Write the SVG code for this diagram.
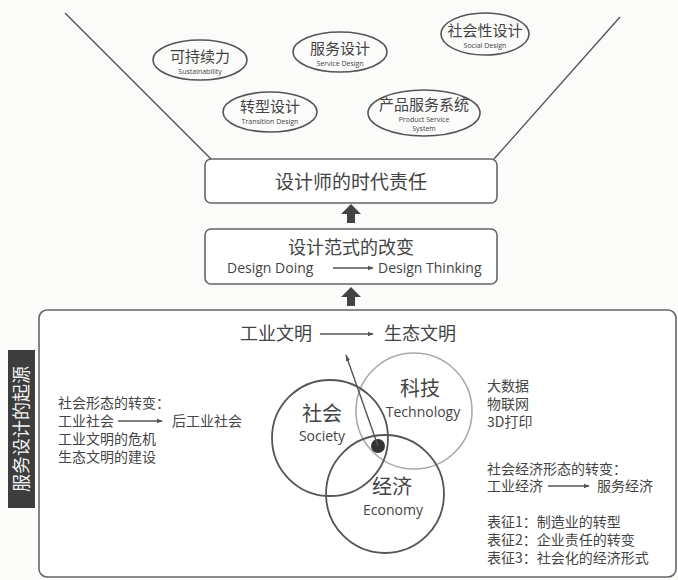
<svg xmlns="http://www.w3.org/2000/svg" width="678" height="580" viewBox="0 0 678 580">
<defs>
<style>
.t{font-family:"Noto Sans CJK SC","Noto Sans",sans-serif;fill:#444;}
.e{font-family:"Open Sans","Noto Sans",sans-serif;fill:#444;}
.c{text-anchor:middle;}
.ell{fill:none;stroke:#555;stroke-width:1.6;}
.box{fill:#fff;stroke:#666;stroke-width:1.6;}
.ln{stroke:#555;stroke-width:1.4;fill:none;}
.circ{fill:none;stroke:#555;stroke-width:1.8;}
</style>
<marker id="ah" viewBox="0 0 10 10" refX="9" refY="5" markerWidth="6" markerHeight="6" orient="auto" markerUnits="userSpaceOnUse">
<path d="M0,1 L10,5 L0,9 Z" fill="#555"/>
</marker>
<marker id="ah2" viewBox="0 0 10 10" refX="9" refY="5" markerWidth="7" markerHeight="7" orient="auto" markerUnits="userSpaceOnUse">
<path d="M0,2 L10,5 L0,8 Z" fill="#555"/>
</marker>
</defs>
<rect width="678" height="580" fill="#fbfbfa"/>

<g id="top-ellipses">
<g id="sustainability">
<ellipse class="ell" cx="200" cy="60" rx="47" ry="20"/>
<text class="t c" x="200" y="62" font-size="15">可持续力</text>
<text class="e c" x="200" y="74" font-size="7">Sustainability</text>
</g>
<g id="service-design">
<ellipse class="ell" cx="340" cy="52" rx="47" ry="20"/>
<text class="t c" x="340" y="54" font-size="15">服务设计</text>
<text class="e c" x="340" y="66" font-size="7">Service Design</text>
</g>
<g id="social-design">
<ellipse class="ell" cx="485" cy="34" rx="44" ry="21"/>
<text class="t c" x="485" y="36" font-size="15">社会性设计</text>
<text class="e c" x="485" y="48" font-size="7">Social Design</text>
</g>
<g id="transition-design">
<ellipse class="ell" cx="270" cy="112" rx="47" ry="20"/>
<text class="t c" x="270" y="112" font-size="15">转型设计</text>
<text class="e c" x="270" y="124" font-size="7">Transition Design</text>
</g>
<g id="pss">
<ellipse class="ell" cx="424" cy="113" rx="56" ry="23"/>
<text class="t c" x="424" y="110" font-size="15">产品服务系统</text>
<text class="e c" x="424" y="122" font-size="7">Product Service</text>
<text class="e c" x="424" y="131" font-size="7">System</text>
</g>
</g>

<g id="designer-responsibility">
<rect class="box" x="205" y="159" width="292" height="44" rx="6"/>
<text class="t c" x="351" y="189" font-size="19">设计师的时代责任</text>
</g>

<g id="paradigm-change">
<rect class="box" x="205" y="229" width="292" height="55" rx="6"/>
<text class="t c" x="351" y="254" font-size="18">设计范式的改变</text>
<text class="e" x="227" y="273" font-size="14">Design Doing</text>
<line class="ln" x1="333" y1="268" x2="373" y2="268" stroke-width="1.2" marker-end="url(#ah)"/>
<text class="e" x="378" y="273" font-size="14">Design Thinking</text>
</g>

<g id="origin">
<rect class="box" x="39" y="310" width="637" height="267" rx="8"/>
<g id="origin-label">
<rect x="8" y="350" width="27" height="158" fill="#3d3d3d"/>
<text class="t c" x="0" y="0" font-size="18" style="fill:#f2f2f2" transform="translate(28,429) rotate(-90)">服务设计的起源</text>
</g>
<g id="civilization">
<text class="t" x="240" y="340" font-size="18">工业文明</text>
<line class="ln" x1="320" y1="334" x2="373" y2="334" stroke-width="1.2" marker-end="url(#ah)"/>
<text class="t" x="384" y="340" font-size="18">生态文明</text>
</g>
<g id="society-left">
<text class="t" x="58" y="408" font-size="14">社会形态的转变：</text>
<text class="t" x="58" y="426" font-size="14">工业社会</text>
<line class="ln" x1="118" y1="421" x2="162" y2="421" stroke-width="1.2" marker-end="url(#ah)"/>
<text class="t" x="172" y="426" font-size="14">后工业社会</text>
<text class="t" x="58" y="444" font-size="14">工业文明的危机</text>
<text class="t" x="58" y="462" font-size="14">生态文明的建设</text>
</g>
<g id="circle-technology">
<circle cx="414" cy="411" r="58" fill="none" stroke="#aaa" stroke-width="1.6"/>
<text class="t c" x="420" y="396" font-size="20">科技</text>
<text class="e c" x="423" y="417" font-size="14">Technology</text>
</g>
<g id="circle-society">
<circle class="circ" cx="330" cy="438" r="58"/>
<text class="t c" x="322" y="421" font-size="20">社会</text>
<text class="e c" x="322" y="441" font-size="14">Society</text>
</g>
<g id="circle-economy">
<circle class="circ" cx="385" cy="494" r="59"/>
<text class="t c" x="392" y="494" font-size="20">经济</text>
<text class="e c" x="393" y="515" font-size="14">Economy</text>
</g>
<circle id="core-dot" cx="378" cy="446" r="7" fill="#333"/>
<g id="tech-right">
<text class="t" x="487" y="391" font-size="14">大数据</text>
<text class="t" x="487" y="409" font-size="14">物联网</text>
<text class="t" x="487" y="427" font-size="14">3D打印</text>
</g>
<g id="economy-right">
<text class="t" x="487" y="474" font-size="14">社会经济形态的转变：</text>
<text class="t" x="487" y="491" font-size="14">工业经济</text>
<line class="ln" x1="548" y1="486" x2="589" y2="486" stroke-width="1.2" marker-end="url(#ah)"/>
<text class="t" x="597" y="491" font-size="14">服务经济</text>
<text class="t" x="487" y="527" font-size="14">表征1：制造业的转型</text>
<text class="t" x="487" y="545" font-size="14">表征2：企业责任的转变</text>
<text class="t" x="487" y="563" font-size="14">表征3：社会化的经济形式</text>
</g>
</g>

<g id="connectors">
<line class="ln" x1="65" y1="13" x2="211" y2="159"/>
<line class="ln" x1="620" y1="17" x2="494" y2="159"/>
<path id="arrow-up-1" d="M351,204 L361,214 L355,214 L355,223 L347,223 L347,214 L341,214 Z" fill="#444"/>
<path id="arrow-up-2" d="M351,287 L361,297 L355,297 L355,306 L347,306 L347,297 L341,297 Z" fill="#444"/>
<line class="ln" x1="378" y1="446" x2="346" y2="355" stroke-width="1.3" marker-end="url(#ah2)"/>
</g>
</svg>
